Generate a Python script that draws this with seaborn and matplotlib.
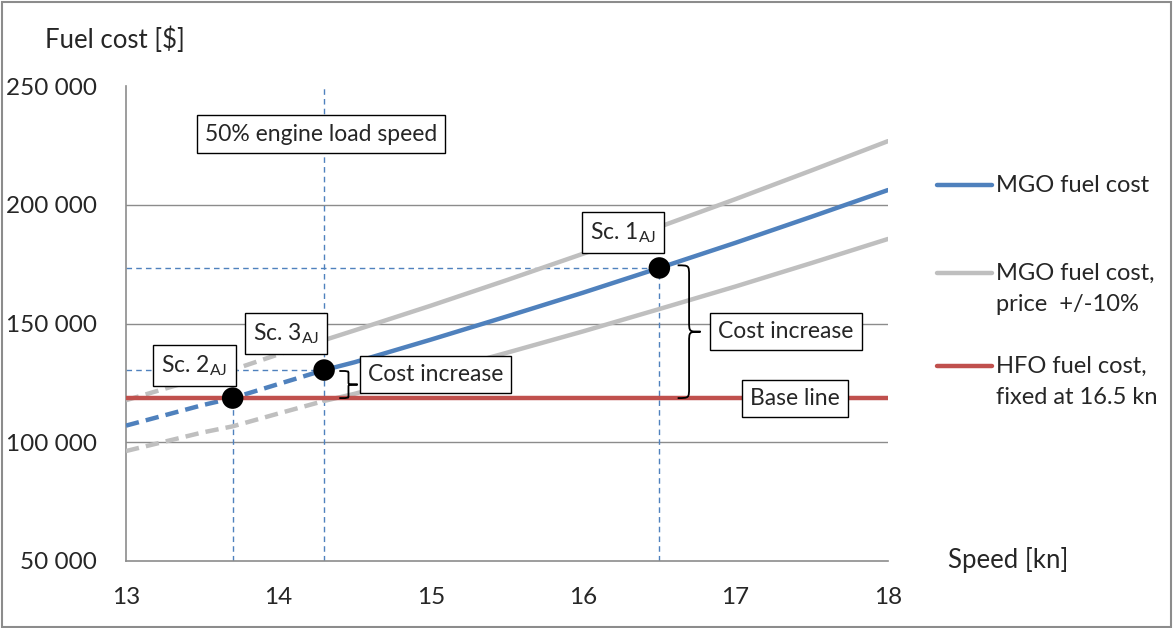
import numpy as np
import pandas as pd
import matplotlib.pyplot as plt
import seaborn as sns
from matplotlib.path import Path
from matplotlib.patches import PathPatch, Rectangle
from matplotlib.lines import Line2D
from matplotlib.ticker import FuncFormatter, MultipleLocator

# valores
speed = [13, 13.5, 13.7, 14, 14.3, 14.5, 15, 15.5, 16, 16.5, 17, 17.5, 18]
mgo = [107000, 115600, 118600, 124500, 130400, 133700, 143200, 153000, 163000, 173400, 184000, 195000, 206200]
mgo_hi = [117700, 127200, 130500, 137000, 143000, 147100, 157500, 168300, 179400, 190700, 202400, 214500, 226800]
mgo_lo = [96300, 104100, 106700, 112100, 117400, 120400, 128900, 137700, 146700, 156100, 165600, 175500, 185600]
hfo = 118600
speed_50 = 14.3

sc_names = ["Sc. 1$_{\\mathregular{AJ}}$", "Sc. 2$_{\\mathregular{AJ}}$", "Sc. 3$_{\\mathregular{AJ}}$"]
sc_speed = [16.5, 13.7, 14.3]
sc_cost = [173400, 118600, 130400]

BLUE = "#4F81BD"
RED = "#C0504D"
GRAY = "#BFBFBF"

sns.set_style("white")
plt.rcParams['font.family'] = ['Lato', 'DejaVu Sans']

df = pd.DataFrame({'speed': speed, 'mgo': mgo, 'hi': mgo_hi, 'lo': mgo_lo})
slow = df[df.speed <= speed_50]
fast = df[df.speed >= speed_50]

fig = plt.figure(figsize=(11.73, 6.28), dpi=100)
ax = fig.add_axes([0.1074, 0.1067, 0.6496, 0.7563])

dash = (3, 1.6)
for col, c in [('hi', GRAY), ('lo', GRAY), ('mgo', BLUE)]:
    sns.lineplot(data=slow, x='speed', y=col, color=c, lw=3.2, ax=ax, zorder=3,
                 dashes=False, linestyle=(0, dash), solid_capstyle='butt')
    sns.lineplot(data=fast, x='speed', y=col, color=c, lw=3.2, ax=ax, zorder=3,
                 solid_capstyle='round')
ax.plot([speed[0], speed[-1]], [hfo, hfo], color=RED, lw=3.2, zorder=3, solid_capstyle='round')

# linhas de referencia
ref = dict(color=BLUE, lw=1, ls=(0, (4, 3)), zorder=2)
ax.plot([16.5, 16.5], [50000, sc_cost[0]], **ref)
ax.plot([13, 16.5], [sc_cost[0], sc_cost[0]], **ref)
ax.plot([13.7, 13.7], [50000, sc_cost[1]], **ref)
ax.plot([speed_50, speed_50], [50000, 250000], **ref)
ax.plot([13, speed_50], [sc_cost[2], sc_cost[2]], **ref)

sns.scatterplot(x=sc_speed, y=sc_cost, color='black', s=240, ax=ax, zorder=6, edgecolor='none')

ax.set_xlim(13, 18)
ax.set_ylim(50000, 250000)
ax.xaxis.set_major_locator(MultipleLocator(1))
ax.xaxis.set_minor_locator(MultipleLocator(0.5))
ax.yaxis.set_major_locator(MultipleLocator(50000))
ax.yaxis.set_major_formatter(FuncFormatter(lambda v, p: f"{int(v):,}".replace(",", " ")))
ax.set_xlabel("")
ax.set_ylabel("")
for y in [100000, 150000, 200000]:
    ax.axhline(y, color='#8C8C8C', lw=1, zorder=1)
for s in ['top', 'right']:
    ax.spines[s].set_visible(False)
for s in ['left', 'bottom']:
    ax.spines[s].set_color('#8C8C8C')
    ax.spines[s].set_linewidth(1.2)
ax.tick_params(axis='both', which='both', direction='out', color='#8C8C8C', width=1.2, labelsize=17.5)
ax.tick_params(axis='both', which='major', length=8)
ax.tick_params(axis='x', which='minor', length=8)
ax.tick_params(axis='x', pad=11)
ax.tick_params(axis='y', pad=13)

box = dict(boxstyle='square,pad=0.35', fc='white', ec='black', lw=1)
fs = 16.5
ax.text(14.28, 229800, "50% engine load speed", ha='center', va='center', fontsize=fs, bbox=box, zorder=7)
ax.text(16.26, 188500, sc_names[0], ha='center', va='center', fontsize=fs, bbox=box, zorder=7)
ax.text(13.45, 132500, sc_names[1], ha='center', va='center', fontsize=fs, bbox=box, zorder=7)
ax.text(14.05, 145600, sc_names[2], ha='center', va='center', fontsize=fs, bbox=box, zorder=7)
ax.text(15.03, 128700, "Cost increase", ha='center', va='center', fontsize=fs, bbox=box, zorder=7)
ax.text(17.33, 146800, "Cost increase", ha='center', va='center', fontsize=fs, bbox=box, zorder=7)
ax.text(17.39, hfo, "Base line", ha='center', va='center', fontsize=fs, bbox=box, zorder=7)


def brace(x0, y0, y1, w):
    ym = (y0 + y1) / 2
    xm = x0 + w / 2
    r = (y1 - y0) * 0.08
    verts = [(x0, y1), (xm, y1), (xm, y1), (xm, y1 - r), (xm, ym + r),
             (xm, ym), (xm, ym), (x0 + w, ym),
             (xm, ym), (xm, ym), (xm, ym - r), (xm, y0 + r),
             (xm, y0), (xm, y0), (x0, y0)]
    codes = [Path.MOVETO, Path.CURVE4, Path.CURVE4, Path.CURVE4, Path.LINETO,
             Path.CURVE4, Path.CURVE4, Path.CURVE4,
             Path.CURVE4, Path.CURVE4, Path.CURVE4, Path.LINETO,
             Path.CURVE4, Path.CURVE4, Path.CURVE4]
    ax.add_patch(PathPatch(Path(verts, codes), fc='none', ec='black', lw=1.3, zorder=7))


brace(16.62, 118600, 174500, 0.15)
brace(14.40, 118600, 130000, 0.12)

fig.text(45 / 1173, 1 - 40 / 628, "Fuel cost [$]", fontsize=18.5, va='center', ha='left')
fig.text(948 / 1173, 1 - 560 / 628, "Speed [kn]", fontsize=18.5, va='center', ha='left')

# legenda manual
leg = [(BLUE, ["MGO fuel cost"], 185), (GRAY, ["MGO fuel cost,", "price  +/-10%"], 273), (RED, ["HFO fuel cost,", "fixed at 16.5 kn"], 366)]
for c, lines, yp in leg:
    fig.add_artist(Line2D([937 / 1173, 992 / 1173], [1 - yp / 628] * 2, color=c, lw=3.2, solid_capstyle='round'))
    for i, t in enumerate(lines):
        fig.text(996 / 1173, 1 - (yp + 32 * i) / 628, t, fontsize=17, va='center', ha='left')

fig.add_artist(Rectangle((0.002, 0.002), 0.996, 0.995, transform=fig.transFigure, fill=False, ec='#8C8C8C', lw=1.5))

fig.savefig("out.png", dpi=100)
